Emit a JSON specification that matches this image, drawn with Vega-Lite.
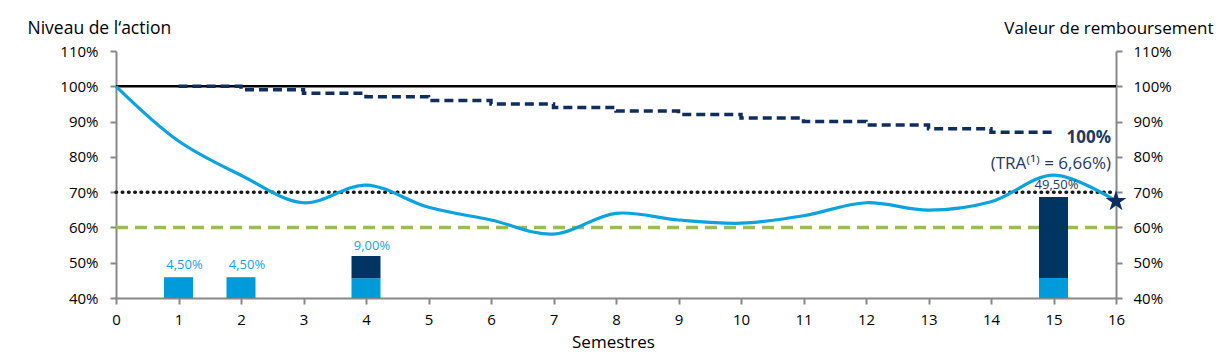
{
  "$schema": "https://vega.github.io/schema/vega-lite/v6.json",
  "autosize": "none",
  "padding": {"left": 116, "top": 51, "right": 111, "bottom": 56},
  "width": 1000,
  "height": 247,
  "background": "white",
  "config": {
    "view": {"stroke": null},
    "font": "Open Sans",
    "axis": {
      "labelFont": "Open Sans", "labelFontSize": 15, "labelColor": "#000",
      "domainColor": "#888", "domainWidth": 2, "tickColor": "#888", "tickWidth": 2, "tickSize": 6,
      "grid": false, "titleFont": "Open Sans", "titleFontSize": 17.5, "titleFontWeight": "normal", "titleColor": "#000"
    }
  },
  "datasets": {
    "curve": [
      {"s": 0, "v": 100}, {"s": 1, "v": 84.5}, {"s": 2, "v": 74.8}, {"s": 3, "v": 67}, {"s": 4, "v": 72},
      {"s": 5, "v": 65.7}, {"s": 6, "v": 62.1}, {"s": 7, "v": 58.1}, {"s": 8, "v": 64}, {"s": 9, "v": 62.1},
      {"s": 10, "v": 61.2}, {"s": 11, "v": 63.3}, {"s": 12, "v": 67}, {"s": 13, "v": 64.9}, {"s": 14, "v": 67.3},
      {"s": 15, "v": 74.8}, {"s": 16, "v": 67.5}
    ],
    "steps": [
      {"s": 1, "v": 100}, {"s": 2, "v": 99}, {"s": 3, "v": 98}, {"s": 4, "v": 97}, {"s": 5, "v": 96},
      {"s": 6, "v": 95}, {"s": 7, "v": 94}, {"s": 8, "v": 93}, {"s": 9, "v": 92}, {"s": 10, "v": 91},
      {"s": 11, "v": 90}, {"s": 12, "v": 89}, {"s": 13, "v": 88}, {"s": 14, "v": 87}, {"s": 15, "v": 87}
    ],
    "bars": [
      {"s": 1, "lo": 40, "hi": 45.9, "part": "coupon"},
      {"s": 2, "lo": 40, "hi": 45.9, "part": "coupon"},
      {"s": 4, "lo": 40, "hi": 45.6, "part": "coupon"},
      {"s": 4, "lo": 45.6, "hi": 51.9, "part": "memoire"},
      {"s": 15, "lo": 40, "hi": 45.7, "part": "coupon"},
      {"s": 15, "lo": 45.7, "hi": 68.6, "part": "memoire"}
    ]
  },
  "encoding": {
    "x": {"type": "quantitative", "scale": {"domain": [0, 16], "nice": false, "zero": false, "padding": 0}}
  },
  "resolve": {"scale": {"y": "independent"}},
  "layer": [
    {
      "data": {"values": [{"a": 0, "b": 16, "y": 60}]},
      "mark": {"type": "rule", "color": "#9BBB59", "strokeWidth": 3.5, "strokeDash": [12, 7]},
      "encoding": {"x": {"field": "a", "type": "quantitative"}, "x2": {"field": "b"},
        "y": {"field": "y", "type": "quantitative", "scale": {"domain": [40, 110], "nice": false, "zero": false}, "axis": null}}
    },
    {
      "data": {"values": [{"a": 0, "b": 16, "y": 70}]},
      "mark": {"type": "rule", "color": "#1a1a1a", "strokeWidth": 3.5, "strokeCap": "round", "strokeDash": [0.6, 5.65]},
      "encoding": {"x": {"field": "a", "type": "quantitative"}, "x2": {"field": "b"},
        "y": {"field": "y", "type": "quantitative", "scale": {"domain": [40, 110], "nice": false, "zero": false}, "axis": null}}
    },
    {
      "data": {"values": [{"a": 0, "b": 16, "y": 100}]},
      "mark": {"type": "rule", "color": "#000", "strokeWidth": 2.5},
      "encoding": {"x": {"field": "a", "type": "quantitative"}, "x2": {"field": "b"},
        "y": {"field": "y", "type": "quantitative", "scale": {"domain": [40, 110], "nice": false, "zero": false},
          "axis": {"orient": "right", "values": [40,50,60,70,80,90,100,110], "labelExpr": "datum.value + '%'", "labelOverlap": false, "labelFlush": false, "labelPadding": 11,
            "title": "Valeur de remboursement", "titleFontSize": 17, "titleAngle": 0, "titleAlign": "right", "titleBaseline": "middle", "titleX": 97, "titleY": -23}}}
    },
    {
      "data": {"name": "bars"},
      "mark": {"type": "bar", "size": 29},
      "encoding": {
        "x": {"field": "s", "type": "quantitative"},
        "y": {"field": "lo", "type": "quantitative", "scale": {"domain": [40, 110], "nice": false, "zero": false}, "axis": null},
        "y2": {"field": "hi"},
        "color": {"field": "part", "type": "nominal", "scale": {"domain": ["coupon", "memoire"], "range": ["#009BDB", "#003462"]}, "legend": null}
      }
    },
    {
      "data": {"name": "steps"},
      "mark": {"type": "line", "interpolate": "step-after", "color": "#0F2D5E", "strokeWidth": 3.5, "strokeDash": [9, 5]},
      "encoding": {"x": {"field": "s", "type": "quantitative"},
        "y": {"field": "v", "type": "quantitative", "scale": {"domain": [40, 110], "nice": false, "zero": false}, "axis": null}}
    },
    {
      "data": {"name": "curve"},
      "mark": {"type": "line", "interpolate": "catmull-rom", "color": "#0AA3DD", "strokeWidth": 3.2},
      "encoding": {
        "x": {"field": "s", "type": "quantitative", "axis": {"values": [0,1,2,3,4,5,6,7,8,9,10,11,12,13,14,15,16], "format": "d", "labelOverlap": false, "labelFlush": false, "labelPadding": 8, "title": "Semestres", "titleFontSize": 17, "titleY": 44, "titleBaseline": "middle", "titleX": 497}},
        "y": {"field": "v", "type": "quantitative", "scale": {"domain": [40, 110], "nice": false, "zero": false},
          "axis": {"orient": "left", "values": [40,50,60,70,80,90,100,110], "labelExpr": "datum.value + '%'", "labelOverlap": false, "labelFlush": false, "labelPadding": 12,
            "title": "Niveau de l\u2018action", "titleAngle": 0, "titleAlign": "left", "titleBaseline": "middle", "titleX": -89, "titleY": -23}}
      }
    },
    {
      "data": {"values": [{"s": 16, "v": 67.4}]},
      "mark": {"type": "point", "filled": true, "opacity": 1, "color": "#0F2D5E", "size": 484,
        "shape": "M0,-1L0.2245,-0.309L0.951,-0.309L0.363,0.118L0.588,0.809L0,0.382L-0.588,0.809L-0.363,0.118L-0.951,-0.309L-0.2245,-0.309Z"},
      "encoding": {"x": {"field": "s", "type": "quantitative"},
        "y": {"field": "v", "type": "quantitative", "scale": {"domain": [40, 110], "nice": false, "zero": false}, "axis": null}}
    },
    {
      "data": {"values": [{"s": 1, "v": 49.3, "t": "4,50%"}, {"s": 2, "v": 49.3, "t": "4,50%"}, {"s": 4, "v": 54.7, "t": "9,00%"}]},
      "mark": {"type": "text", "color": "#1A9FDB", "fontSize": 13, "dx": 6, "baseline": "middle"},
      "encoding": {"x": {"field": "s", "type": "quantitative"},
        "y": {"field": "v", "type": "quantitative", "scale": {"domain": [40, 110], "nice": false, "zero": false}, "axis": null}, "text": {"field": "t"}}
    },
    {
      "data": {"values": [{"s": 15, "v": 72, "t": "49,50%"}]},
      "mark": {"type": "text", "color": "#1F3864", "fontSize": 13, "dx": 3, "baseline": "middle"},
      "encoding": {"x": {"field": "s", "type": "quantitative"},
        "y": {"field": "v", "type": "quantitative", "scale": {"domain": [40, 110], "nice": false, "zero": false}, "axis": null}, "text": {"field": "t"}}
    },
    {
      "data": {"values": [{"s": 16, "v": 85.3, "t": "100%"}]},
      "mark": {"type": "text", "color": "#1F3864", "fontSize": 17, "fontWeight": "bold", "align": "right", "dx": -5, "baseline": "middle"},
      "encoding": {"x": {"field": "s", "type": "quantitative"},
        "y": {"field": "v", "type": "quantitative", "scale": {"domain": [40, 110], "nice": false, "zero": false}, "axis": null}, "text": {"field": "t"}}
    },
    {
      "data": {"values": [{"s": 16, "v": 78.1, "t": "(TRA\u207d\u00b9\u207e =  6,66%)"}]},
      "mark": {"type": "text", "color": "#1F3864", "fontSize": 17, "align": "right", "dx": -5, "baseline": "middle"},
      "encoding": {"x": {"field": "s", "type": "quantitative"},
        "y": {"field": "v", "type": "quantitative", "scale": {"domain": [40, 110], "nice": false, "zero": false}, "axis": null}, "text": {"field": "t"}}
    }
  ]
}
